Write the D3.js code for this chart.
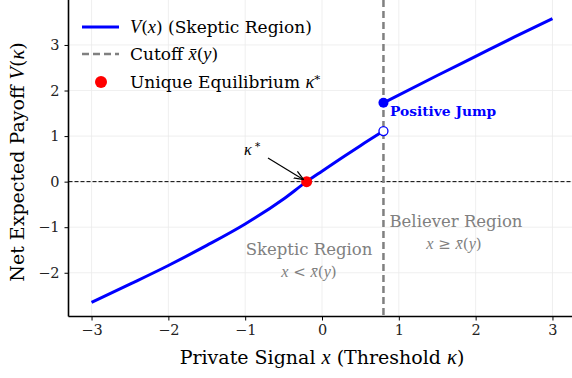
<!DOCTYPE html>
<html>
<head>
<meta charset="utf-8">
<script src="https://cdn.jsdelivr.net/npm/d3@7"></script>
<style>
  body { margin: 0; background: #fff; }
  svg { display: block; font-family: "DejaVu Serif", serif; }
  .m { font-family: "Liberation Serif", serif; font-style: italic; }
</style>
</head>
<body>
<div id="chart"></div>
<script>
// values
var cutoff = 0.8;
var kappaStar = -0.2;
var skepticX = [-3, -2.5, -2, -1.5, -1, -0.5, -0.2, 0, 0.3, 0.5, 0.8];
var skepticV = [-2.65, -2.25, -1.84, -1.4, -0.93, -0.38, 0, 0.23, 0.57, 0.79, 1.11];
var believerX = [0.8, 1.5, 2, 2.5, 3];
var believerV = [1.73, 2.33, 2.75, 3.17, 3.58];
var xTicks = [-3, -2, -1, 0, 1, 2, 3];
var yTicks = [-2, -1, 0, 1, 2, 3];

var width = 572, height = 378;

var x = d3.scaleLinear().domain([-3.3, 3.3]).range([68.5, 575.5]);
var y = d3.scaleLinear().domain([-2.96, 3.91]).range([316.5, 3.5]);

var svg = d3.select('#chart').append('svg')
    .attr('width', width).attr('height', height);

// math bits in italic
function rich(sel, parts) {
    parts.forEach(function(p) {
        if (p[0] === '$') sel.append('tspan').attr('class', 'm').attr('font-size', '1.08em').text(p.slice(1));
        else if (p[0] === '^') sel.append('tspan').attr('dy', '-0.45em').attr('font-size', '0.7em').text(p.slice(1));
        else sel.append('tspan').text(p);
    });
    return sel;
}

// grid
svg.append('g').selectAll('line').data(xTicks).join('line')
    .attr('x1', d => x(d)).attr('x2', d => x(d))
    .attr('y1', y.range()[0]).attr('y2', 0)
    .attr('stroke', '#ebebeb').attr('stroke-width', 0.8);
svg.append('g').selectAll('line').data(yTicks).join('line')
    .attr('x1', x.range()[0]).attr('x2', width)
    .attr('y1', d => y(d)).attr('y2', d => y(d))
    .attr('stroke', '#ebebeb').attr('stroke-width', 0.8);

// zero line
svg.append('line')
    .attr('x1', x.range()[0]).attr('x2', width)
    .attr('y1', y(0)).attr('y2', y(0))
    .attr('stroke', '#000').attr('stroke-width', 1)
    .attr('stroke-dasharray', '4,2');

// cutoff
svg.append('line')
    .attr('x1', x(cutoff)).attr('x2', x(cutoff))
    .attr('y1', 0).attr('y2', y.range()[0])
    .attr('stroke', '#808080').attr('stroke-width', 2.5)
    .attr('stroke-dasharray', '7,4');

var line = d3.line()
    .x(d => x(d[0]))
    .y(d => y(d[1]))
    .curve(d3.curveMonotoneX);

svg.append('path')
    .attr('d', line(d3.zip(skepticX, skepticV)))
    .attr('fill', 'none').attr('stroke', '#0000ff').attr('stroke-width', 3);
svg.append('path')
    .attr('d', line(d3.zip(believerX, believerV)))
    .attr('fill', 'none').attr('stroke', '#0000ff').attr('stroke-width', 3);

// jump markers
svg.append('circle')
    .attr('cx', x(cutoff)).attr('cy', y(skepticV[skepticV.length - 1])).attr('r', 4.5)
    .attr('fill', '#fff').attr('stroke', '#0000ff').attr('stroke-width', 1.3);
svg.append('circle')
    .attr('cx', x(cutoff)).attr('cy', y(believerV[0])).attr('r', 5)
    .attr('fill', '#0000ff');

// equilibrium
svg.append('circle')
    .attr('cx', x(kappaStar)).attr('cy', y(0)).attr('r', 5.5)
    .attr('fill', '#ff0000');

// annotations
svg.append('defs').append('marker')
    .attr('id', 'arr').attr('viewBox', '0 0 10 10')
    .attr('refX', 10).attr('refY', 5)
    .attr('markerWidth', 8).attr('markerHeight', 8)
    .attr('orient', 'auto')
    .append('path').attr('d', 'M0,1 L10,5 L0,9')
    .attr('fill', 'none').attr('stroke', '#000').attr('stroke-width', 1.3);
svg.append('line')
    .attr('x1', 268).attr('y1', 158)
    .attr('x2', x(kappaStar) - 3).attr('y2', y(0) - 2)
    .attr('stroke', '#000').attr('stroke-width', 1.2)
    .attr('marker-end', 'url(#arr)');
rich(svg.append('text').attr('x', 244).attr('y', 155).attr('font-size', 15), ['$κ', '^ *']);

svg.append('text').attr('x', 390).attr('y', 116)
    .attr('font-size', 13.8).attr('font-weight', 'bold').attr('fill', '#0000ff')
    .text('Positive Jump');

svg.append('text').attr('x', 309).attr('y', 255)
    .attr('text-anchor', 'middle').attr('font-size', 16.5).attr('fill', '#808080')
    .text('Skeptic Region');
rich(svg.append('text').attr('x', 309).attr('y', 277)
    .attr('text-anchor', 'middle').attr('font-size', 15).attr('fill', '#808080'),
    ['$x', ' < ', '$x̄', '(', '$y', ')']);

svg.append('text').attr('x', 456).attr('y', 227)
    .attr('text-anchor', 'middle').attr('font-size', 16.5).attr('fill', '#808080')
    .text('Believer Region');
rich(svg.append('text').attr('x', 454).attr('y', 249)
    .attr('text-anchor', 'middle').attr('font-size', 15).attr('fill', '#808080'),
    ['$x', ' ≥ ', '$x̄', '(', '$y', ')']);

// axes
var fmt = d => d < 0 ? '\u2212' + Math.abs(d) : d;
var xAxis = svg.append('g').attr('transform', 'translate(0,' + y.range()[0] + ')')
    .call(d3.axisBottom(x).tickValues(xTicks).tickSize(4).tickPadding(4).tickFormat(fmt));
var yAxis = svg.append('g').attr('transform', 'translate(' + x.range()[0] + ',0)')
    .call(d3.axisLeft(y).tickValues(yTicks).tickSize(4).tickPadding(5).tickFormat(fmt));
[xAxis, yAxis].forEach(function(g) {
    g.selectAll('text').attr('font-family', '"DejaVu Serif", serif').attr('font-size', 14.5).attr('fill', '#222');
    g.selectAll('.tick line').attr('stroke', '#000').attr('stroke-width', 1);
});
xAxis.select('.domain').attr('d', 'M' + x.range()[0] + ',0H' + width).attr('stroke', '#000').attr('stroke-width', 1.6);
yAxis.select('.domain').attr('d', 'M0,' + y.range()[0] + 'V0').attr('stroke', '#000').attr('stroke-width', 1.6);

// axis labels
rich(svg.append('text').attr('x', 322).attr('y', 364)
    .attr('text-anchor', 'middle').attr('font-size', 19),
    ['Private Signal ', '$x', ' (Threshold ', '$κ', ')']);

rich(svg.append('text')
    .attr('transform', 'translate(24,162) rotate(-90)')
    .attr('text-anchor', 'middle').attr('font-size', 19),
    ['Net Expected Payoff ', '$V', '(', '$κ', ')']);

// legend
var legend = svg.append('g').attr('transform', 'translate(82,0)');
legend.append('line').attr('x1', 0).attr('x2', 37).attr('y1', 27).attr('y2', 27)
    .attr('stroke', '#0000ff').attr('stroke-width', 3);
legend.append('line').attr('x1', 0).attr('x2', 37).attr('y1', 54).attr('y2', 54)
    .attr('stroke', '#808080').attr('stroke-width', 2.5).attr('stroke-dasharray', '7,4');
legend.append('circle').attr('cx', 19).attr('cy', 82).attr('r', 6).attr('fill', '#ff0000');

rich(legend.append('text').attr('x', 48).attr('y', 33).attr('font-size', 17),
    ['$V', '(', '$x', ') (Skeptic Region)']);
rich(legend.append('text').attr('x', 48).attr('y', 60).attr('font-size', 17),
    ['Cutoff ', '$x̄', '(', '$y', ')']);
rich(legend.append('text').attr('x', 48).attr('y', 88).attr('font-size', 17),
    ['Unique Equilibrium ', '$κ', '^*']);
</script>
</body>
</html>
